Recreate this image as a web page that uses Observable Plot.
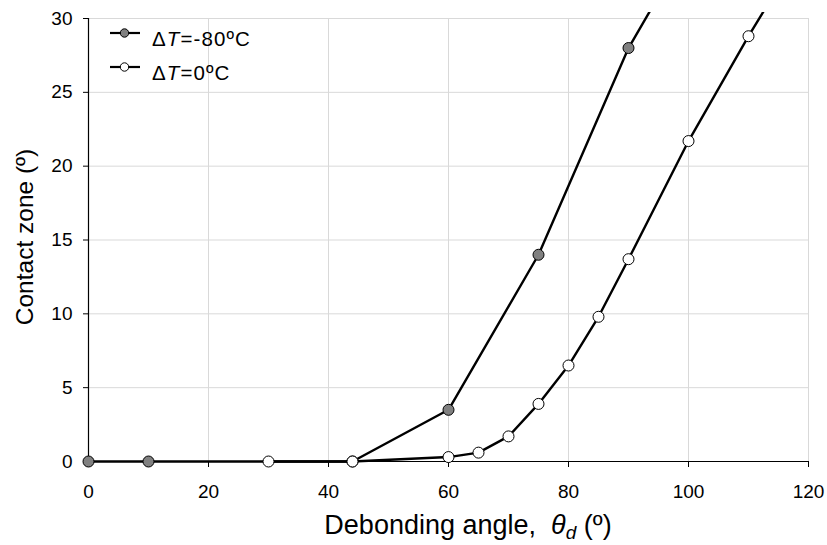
<!DOCTYPE html>
<html><head><meta charset="utf-8">
<script src="https://cdn.jsdelivr.net/npm/d3@7"></script>
<script src="https://cdn.jsdelivr.net/npm/@observablehq/plot@0.6"></script>
<style>body{margin:0;background:#fff;font-family:"Liberation Sans",Arial,sans-serif}</style>
</head><body><div id="chart"></div>
<script>
// Series ΔT = -80ºC (filled markers)
const xCold = [0, 10, 44, 60, 75, 90, 100];
const yCold = [0, 0, 0, 3.5, 14, 28, 35];
// Series ΔT = 0ºC (open markers)
const xWarm = [30, 44, 60, 65, 70, 75, 80, 85, 90, 100, 110, 120];
const yWarm = [0, 0, 0.3, 0.6, 1.7, 3.9, 6.5, 9.8, 13.7, 21.7, 28.8, 35.5];
const xTicks = [0, 20, 40, 60, 80, 100, 120];
const yTicks = [0, 5, 10, 15, 20, 25, 30];
const seriesNames = ["-80ºC", "0ºC"];

const cold = xCold.map((x, i) => ({x, y: yCold[i]}));
const warm = xWarm.map((x, i) => ({x, y: yWarm[i]}));
const inView = d => d.y <= 30;

const plot = Plot.plot({
  width: 827, height: 545,
  marginLeft: 88, marginRight: 19, marginTop: 18, marginBottom: 84,
  style: {fontFamily: "Liberation Sans, Arial, sans-serif", fontSize: "19px", background: "white", color: "black", overflow: "visible"},
  x: {domain: [0, 120], ticks: xTicks},
  y: {domain: [0, 30], ticks: yTicks},
  marks: [
    Plot.gridX(xTicks, {stroke: "#d9d9d9", strokeOpacity: 1}),
    Plot.gridY(yTicks, {stroke: "#d9d9d9", strokeOpacity: 1}),
    Plot.axisX(xTicks, {tickSize: 6, tickPadding: 17, label: null, fontSize: 19}),
    Plot.axisY(yTicks, {tickSize: 5, tickPadding: 11, label: null, fontSize: 19}),
    Plot.ruleY([0], {stroke: "black", strokeWidth: 1.2}),
    Plot.ruleX([0], {stroke: "black", strokeWidth: 1.2}),
    Plot.line(cold, {x: "x", y: "y", stroke: "black", strokeWidth: 2.4, clip: true}),
    Plot.line(warm, {x: "x", y: "y", stroke: "black", strokeWidth: 2.4, clip: true}),
    Plot.dot(cold, {filter: inView, x: "x", y: "y", r: 5.5, fill: "#808080", stroke: "black", strokeWidth: 1}),
    Plot.dot(warm, {filter: inView, x: "x", y: "y", r: 5.5, fill: "white", stroke: "black", strokeWidth: 1})
  ]
});

const svg = d3.select(plot);
const ff = "Liberation Sans, Arial, sans-serif";

// let the lines run slightly past the top of the frame, as in the original
svg.selectAll("clipPath rect").attr("x", 0).attr("width", 827).attr("y", 12).attr("height", 545 - 12);

// x axis label
const xl = svg.append("text").attr("x", 468).attr("y", 534).attr("text-anchor", "middle")
  .attr("font-size", 27).attr("font-family", ff).attr("fill", "black").style("white-space", "pre");
xl.append("tspan").text("Debonding angle,  ");
xl.append("tspan").attr("font-style", "italic").text("θ");
xl.append("tspan").attr("font-style", "italic").attr("font-size", 19).attr("dy", 5).text("d");
xl.append("tspan").attr("dy", -5).text(" (º)");

// y axis label
svg.append("text").attr("transform", "translate(33,237) rotate(-90)").attr("text-anchor", "middle")
  .attr("font-size", 24.5).attr("font-family", ff).attr("fill", "black").text("Contact zone (º)");

// legend
const fills = ["#808080", "white"];
const rowsY = [33, 67];
seriesNames.forEach((name, i) => {
  const g = svg.append("g").attr("transform", `translate(0,${rowsY[i]})`);
  g.append("line").attr("x1", 110).attr("x2", 140).attr("y1", 0).attr("y2", 0).attr("stroke", "black").attr("stroke-width", 2.2);
  g.append("circle").attr("cx", 124.5).attr("cy", 0).attr("r", 4.2).attr("fill", fills[i]).attr("stroke", "black");
  const t = g.append("text").attr("x", 152).attr("y", 13).attr("text-anchor", "start")
    .attr("font-size", 20.5).attr("letter-spacing", 1.1).attr("font-family", ff).attr("fill", "black");
  t.append("tspan").text("Δ");
  t.append("tspan").attr("font-style", "italic").text("T");
  t.append("tspan").text("=" + name);
});

document.getElementById("chart").append(plot);
</script>
</body></html>
